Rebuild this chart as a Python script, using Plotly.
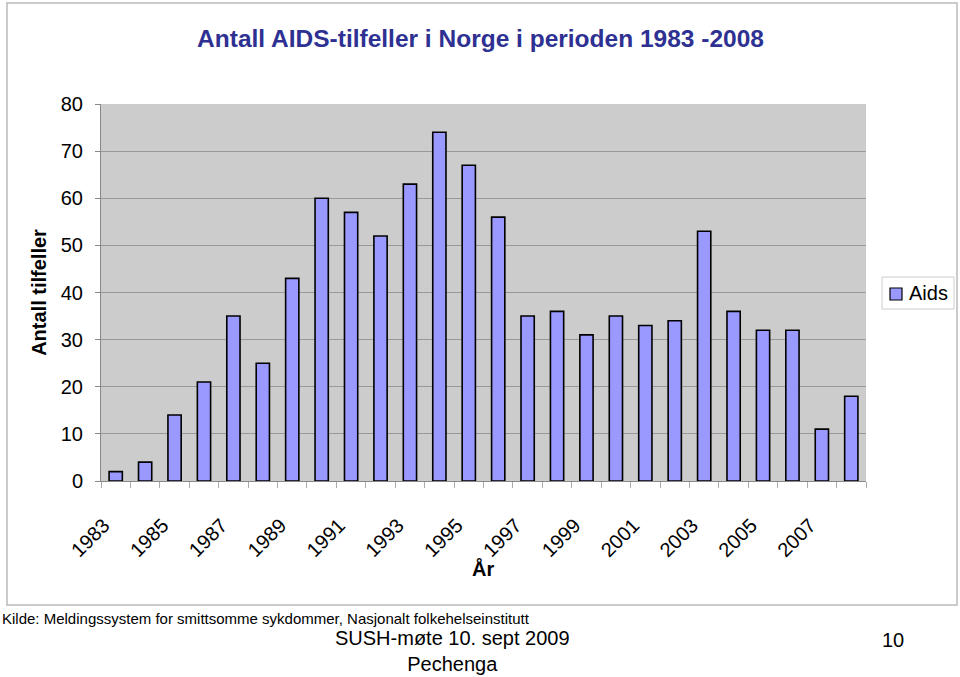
import plotly.graph_objects as go

years = list(range(1983, 2009))
cases = [2, 4, 14, 21, 35, 25, 43, 60, 57, 52, 63, 74, 67, 56, 35, 36, 31, 35, 33, 34, 53, 36, 32, 32, 11, 18]
tick_years = [y for y in years if y % 2 == 1]
y_ticks = list(range(0, 81, 10))
series_name = "Aids"

W, H = 960, 677
L, R, T, B = 101, 94, 104, 196
pw, ph = W - L - R, H - T - B

def px_x(x):
    return (x - L) / pw

def px_y(y):
    return (H - B - y) / ph

PAD = "\u00a0" * 3

fig = go.Figure()
fig.add_trace(go.Bar(
    x=years, y=cases, name=series_name, showlegend=False,
    marker=dict(color="#9999FF", line=dict(color="#000000", width=1.6)),
))

fig.update_layout(
    width=W, height=H,
    margin=dict(l=L, r=R, t=T, b=B),
    paper_bgcolor="white",
    plot_bgcolor="#CCCCCC",
    bargap=0.55,
    font=dict(family="Arial, Liberation Sans, sans-serif", color="#000000"),
    showlegend=False,
    xaxis=dict(
        range=[1982.5, 2008.5],
        tickmode="array", tickvals=tick_years,
        ticktext=[str(y) + PAD for y in tick_years],
        tickangle=-45, ticks="", tickfont=dict(size=20), ticklabelstandoff=12,
        showgrid=False, zeroline=False,
        showline=True, linecolor="#888888", linewidth=1,
        minor=dict(tick0=1982.5, dtick=1, ticks="outside", ticklen=6,
                   tickcolor="#AAAAAA", showgrid=False),
    ),
    yaxis=dict(
        range=[0, 80], tickmode="array", tickvals=y_ticks,
        ticks="outside", ticklen=5, tickcolor="#888888",
        tickfont=dict(size=20), ticklabelstandoff=8,
        showgrid=True, gridcolor="#999999", gridwidth=1,
        zeroline=False, showline=True, linecolor="#888888", linewidth=1,
        title=dict(text="<b>Antall tilfeller</b>", font=dict(size=20), standoff=8),
    ),
    title=dict(text="<b>Antall AIDS-tilfeller i Norge i perioden 1983 -2008</b>",
               x=0.5 * (197 + 764) / W, xanchor="center",
               y=1 - 38 / H, yanchor="middle",
               font=dict(size=24.5, color="#2E3192")),
)

# x-axis title
fig.add_annotation(text="<b>År</b>", xref="paper", yref="paper",
                   x=px_x(483), y=px_y(568), xanchor="center", yanchor="middle",
                   showarrow=False, font=dict(size=20))

# chart area border
fig.add_shape(type="rect", xref="paper", yref="paper",
              x0=px_x(7), x1=px_x(957), y0=px_y(605), y1=px_y(3),
              line=dict(color="#BBBBBB", width=1.5), layer="below")

# legend box (drawn manually to match the compact original legend)
fig.add_shape(type="rect", xref="paper", yref="paper",
              x0=px_x(882), x1=px_x(954), y0=px_y(309), y1=px_y(277),
              line=dict(color="#CCCCCC", width=1), fillcolor="white")
fig.add_shape(type="rect", xref="paper", yref="paper",
              x0=px_x(890), x1=px_x(902), y0=px_y(300), y1=px_y(288),
              line=dict(color="#000000", width=1.2), fillcolor="#9999FF")
fig.add_annotation(text=series_name, xref="paper", yref="paper",
                   x=px_x(907), y=px_y(293), xanchor="left", yanchor="middle",
                   showarrow=False, font=dict(size=20))

fig.add_annotation(text="Kilde: Meldingssystem for smittsomme sykdommer, Nasjonalt folkehelseinstitutt",
                   xref="paper", yref="paper", x=px_x(0), y=px_y(618),
                   xanchor="left", yanchor="middle", showarrow=False,
                   font=dict(size=15))
fig.add_annotation(text="SUSH-møte 10. sept 2009<br>Pechenga",
                   xref="paper", yref="paper", x=px_x(452), y=px_y(651),
                   xanchor="center", yanchor="middle", showarrow=False,
                   font=dict(size=20))
fig.add_annotation(text="10",
                   xref="paper", yref="paper", x=px_x(893), y=px_y(640),
                   xanchor="center", yanchor="middle", showarrow=False,
                   font=dict(size=20))

fig.write_html("out.html", config={"displayModeBar": False},
               post_script="document.body.style.margin='0';")
